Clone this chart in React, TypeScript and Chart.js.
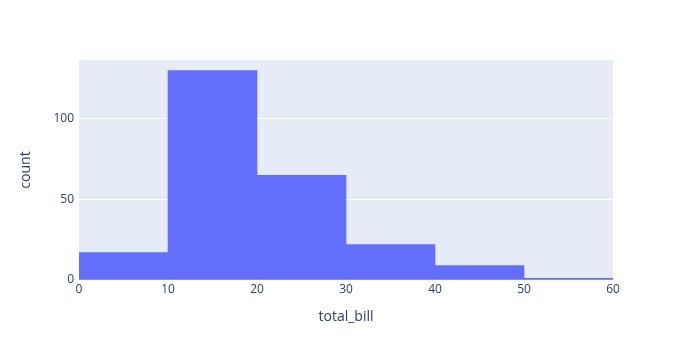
import React, { useEffect, useRef } from "react";
import { Chart, registerables } from "chart.js";

Chart.register(...registerables);

const binCenters = [5, 15, 25, 35, 45, 55];
const counts = [17, 130, 65, 22, 9, 1];
const xTicks = [0, 10, 20, 30, 40, 50, 60];
const yTicks = [0, 50, 100];

const FONT = "'Open Sans', 'Noto Sans', sans-serif";
const TXT = "#2a3f5f";

export default function App() {
  const ref = useRef<HTMLCanvasElement>(null);
  useEffect(() => {
    document.body.style.margin = "0";
    const bg = {
      id: "plotBg",
      beforeDraw(chart: any) {
        const { ctx, chartArea: a } = chart;
        ctx.save();
        ctx.fillStyle = "#E5ECF6";
        ctx.fillRect(a.left, a.top, a.right - a.left, a.bottom - a.top);
        ctx.restore();
      },
    };
    const chart = new Chart(ref.current!, {
      type: "bar",
      data: {
        datasets: [
          {
            label: "count",
            data: binCenters.map((x, i) => ({ x, y: counts[i] })),
            backgroundColor: "#636EFA",
            borderWidth: 0,
            barPercentage: 1,
            categoryPercentage: 1,
          },
        ],
      },
      options: {
        responsive: false,
        animation: false,
        layout: { padding: { left: 0, right: 81, top: 60, bottom: 0 } },
        plugins: { legend: { display: false }, tooltip: { enabled: false } },
        scales: {
          x: {
            type: "linear",
            offset: false,
            min: 0,
            max: 60,
            afterBuildTicks: (s: any) => {
              s.ticks = xTicks.map((v) => ({ value: v }));
            },
            afterFit: (s: any) => {
              s.height = 80;
            },
            grid: { display: false, drawTicks: false },
            border: { display: false },
            ticks: { color: TXT, font: { family: FONT, size: 12 }, padding: 2, maxRotation: 0 },
            title: {
              display: true,
              text: "total_bill",
              color: TXT,
              font: { family: FONT, size: 14 },
              padding: { top: 0, bottom: 35 },
            },
          },
          y: {
            min: 0,
            max: 136.6,
            afterBuildTicks: (s: any) => {
              s.ticks = yTicks.map((v) => ({ value: v }));
            },
            afterFit: (s: any) => {
              s.width = 79;
            },
            grid: { color: "#ffffff", lineWidth: 1, drawTicks: false },
            border: { display: false },
            ticks: { color: TXT, font: { family: FONT, size: 12 }, padding: 5 },
            title: {
              display: true,
              text: "count",
              color: TXT,
              font: { family: FONT, size: 14 },
              padding: { top: 18, bottom: 0 },
            },
          },
        },
      },
      plugins: [bg],
    } as any);
    return () => chart.destroy();
  }, []);
  return (
    <div style={{ width: 694, height: 360, background: "#fff" }}>
      <canvas ref={ref} width={694} height={360} />
    </div>
  );
}
